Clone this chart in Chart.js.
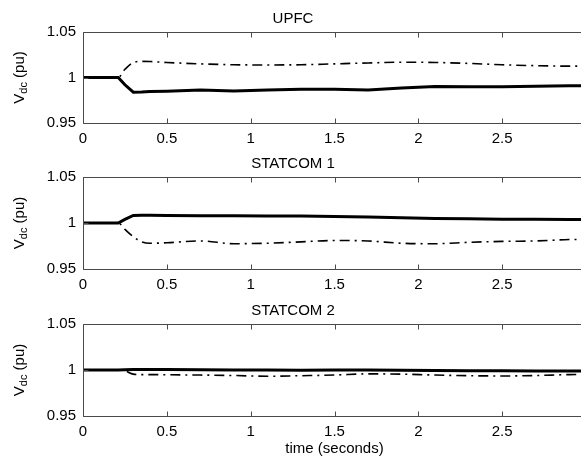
<!DOCTYPE html>
<html>
<head>
<meta charset="utf-8">
<script src="https://cdn.jsdelivr.net/npm/chart.js@4.4.1/dist/chart.umd.min.js"></script>
<style>
  html, body { margin: 0; padding: 0; background: #fff; overflow: hidden; width: 581px; height: 463px; }
  .panel { position: absolute; left: 0; }
  canvas { display: block; }
</style>
</head>
<body>
<div class="panel" style="top:5.7px"><canvas id="c1" width="600" height="145"></canvas></div>
<div class="panel" style="top:150.7px"><canvas id="c2" width="600" height="146"></canvas></div>
<div class="panel" style="top:297.5px"><canvas id="c3" width="600" height="166"></canvas></div>
<script>
// ---- data ----
const time = [0, 0.21, 0.25, 0.3, 0.35, 0.4, 0.5, 0.7, 0.9, 1.1, 1.3, 1.5, 1.7, 1.9, 2.1, 2.3, 2.5, 2.7, 2.9, 3.0];

const upfcSolid = [1, 1, 0.992, 0.9838, 0.984, 0.9845, 0.985, 0.9862, 0.9853, 0.9862, 0.9872, 0.987, 0.9864, 0.9885, 0.990, 0.9898, 0.9897, 0.9905, 0.991, 0.991];
const upfcDash  = [1, 1, 1.009, 1.0165, 1.0177, 1.0175, 1.0165, 1.015, 1.014, 1.0138, 1.014, 1.015, 1.016, 1.0168, 1.0165, 1.0155, 1.014, 1.013, 1.0125, 1.0125];

const stat1Solid = [1, 1, 1.004, 1.0082, 1.0085, 1.0084, 1.0082, 1.008, 1.0078, 1.0077, 1.0075, 1.007, 1.0065, 1.0058, 1.005, 1.0045, 1.0042, 1.004, 1.0038, 1.0037];
const stat1Dash  = [1, 1, 0.993, 0.985, 0.9795, 0.978, 0.9785, 0.9805, 0.9775, 0.978, 0.9795, 0.981, 0.9805, 0.978, 0.9775, 0.979, 0.980, 0.9805, 0.982, 0.9822];

const stat2Solid = [1, 1, 1.0003, 1.0006, 1.0006, 1.0006, 1.0005, 1.0003, 1.0, 1.0, 0.9998, 1.0, 1.0, 0.9998, 0.9995, 0.9992, 0.9993, 0.999, 0.9988, 0.9988];
const stat2Dash  = [1, 1, 0.999, 0.9955, 0.995, 0.995, 0.9948, 0.9945, 0.994, 0.9932, 0.9938, 0.9945, 0.9958, 0.9955, 0.9945, 0.9938, 0.9935, 0.994, 0.995, 0.9952];

const panelTitles = ['UPFC', 'STATCOM 1', 'STATCOM 2'];
const xTicks = [0, 0.5, 1, 1.5, 2, 2.5, 3];
const yTicks = [0.95, 1, 1.05];
const xLabel = 'time (seconds)';

const FONT = "'Liberation Sans', Arial, Helvetica, sans-serif";
const AXIS_COLOR = '#4a4a4a';

const toPts = (vals) => time.map((t, i) => ({ x: t, y: vals[i] }));

// frame + inward tick marks (MATLAB style)
const framePlugin = {
  id: 'frame',
  afterDraw(chart) {
    const { ctx, chartArea: a, scales } = chart;
    ctx.save();
    ctx.strokeStyle = AXIS_COLOR;
    ctx.lineWidth = 1;
    const L = Math.round(a.left) + 0.5, T = Math.round(a.top) + 0.5;
    const R = Math.round(a.right) + 0.5, B = Math.round(a.bottom) + 0.5;
    ctx.beginPath();
    ctx.moveTo(R, T); ctx.lineTo(L, T); ctx.lineTo(L, B); ctx.lineTo(R, B); ctx.lineTo(R, T);
    scales.x.ticks.forEach(tk => {
      const px = Math.round(scales.x.getPixelForValue(tk.value)) + 0.5;
      ctx.moveTo(px, B); ctx.lineTo(px, B - 5);
      ctx.moveTo(px, T); ctx.lineTo(px, T + 5);
    });
    scales.y.ticks.forEach(tk => {
      const py = Math.round(scales.y.getPixelForValue(tk.value)) + 0.5;
      ctx.moveTo(L, py); ctx.lineTo(L + 5, py);
    });
    ctx.stroke();
    ctx.restore();
  }
};

// y-axis title with subscript: V_dc (pu)
const yTitlePlugin = {
  id: 'yTitle',
  afterDraw(chart) {
    const { ctx, chartArea: a } = chart;
    const cy = (a.top + a.bottom) / 2;
    const cx = 20;
    ctx.save();
    ctx.translate(cx, cy);
    ctx.rotate(-Math.PI / 2);
    ctx.fillStyle = '#000';
    ctx.textBaseline = 'middle';
    ctx.textAlign = 'left';
    const big = '15px ' + FONT, small = '11px ' + FONT;
    ctx.font = big; const w1 = ctx.measureText('V').width; const w3 = ctx.measureText(' (pu)').width;
    ctx.font = small; const w2 = ctx.measureText('dc').width;
    let x = -(w1 + w2 + w3) / 2;
    ctx.font = big; ctx.fillText('V', x, 0); x += w1;
    ctx.font = small; ctx.fillText('dc', x, 4); x += w2;
    ctx.font = big; ctx.fillText(' (pu)', x, 0);
    ctx.restore();
  }
};

function makeChart(id, title, solid, dash, withXTitle) {
  return new Chart(document.getElementById(id), {
    type: 'line',
    data: {
      datasets: [
        { data: toPts(solid), borderColor: '#000', borderWidth: 3, pointRadius: 0, tension: 0, fill: false },
        { data: toPts(dash), borderColor: '#000', borderWidth: 1.6, borderDash: [10, 5, 2, 5], pointRadius: 0, cubicInterpolationMode: 'monotone', fill: false }
      ]
    },
    options: {
      responsive: false,
      animation: false,
      events: [],
      layout: { padding: { left: 0, right: 14, top: 0, bottom: 0 } },
      plugins: {
        legend: { display: false },
        tooltip: { enabled: false },
        title: {
          display: true, text: title, color: '#000',
          font: { family: FONT, size: 15, weight: 'normal', lineHeight: 1.2 },
          padding: { top: 4, bottom: 4 }
        }
      },
      scales: {
        x: {
          type: 'linear', min: 0, max: 3,
          grid: { display: false, drawTicks: false },
          border: { display: false },
          afterBuildTicks: (s) => { s.ticks = xTicks.map(v => ({ value: v })); },
          ticks: { color: '#000', font: { family: FONT, size: 15 }, padding: 7, maxRotation: 0, autoSkip: false, callback: (v) => String(v) },
          title: withXTitle ? { display: true, text: xLabel, color: '#000', font: { family: FONT, size: 15 }, padding: { top: 0, bottom: 6 } } : { display: false },
          afterFit: (s) => { s.height = withXTitle ? 48 : 28; }
        },
        y: {
          min: 0.95, max: 1.05,
          grid: { display: false, drawTicks: false },
          border: { display: false },
          afterBuildTicks: (s) => { s.ticks = yTicks.map(v => ({ value: v })); },
          ticks: { color: '#000', font: { family: FONT, size: 15 }, padding: 7, callback: (v) => String(v) },
          afterFit: (s) => { s.width = 83; }
        }
      }
    },
    plugins: [framePlugin, yTitlePlugin]
  });
}

makeChart('c1', panelTitles[0], upfcSolid, upfcDash, false);
makeChart('c2', panelTitles[1], stat1Solid, stat1Dash, false);
makeChart('c3', panelTitles[2], stat2Solid, stat2Dash, true);
</script>
</body>
</html>
